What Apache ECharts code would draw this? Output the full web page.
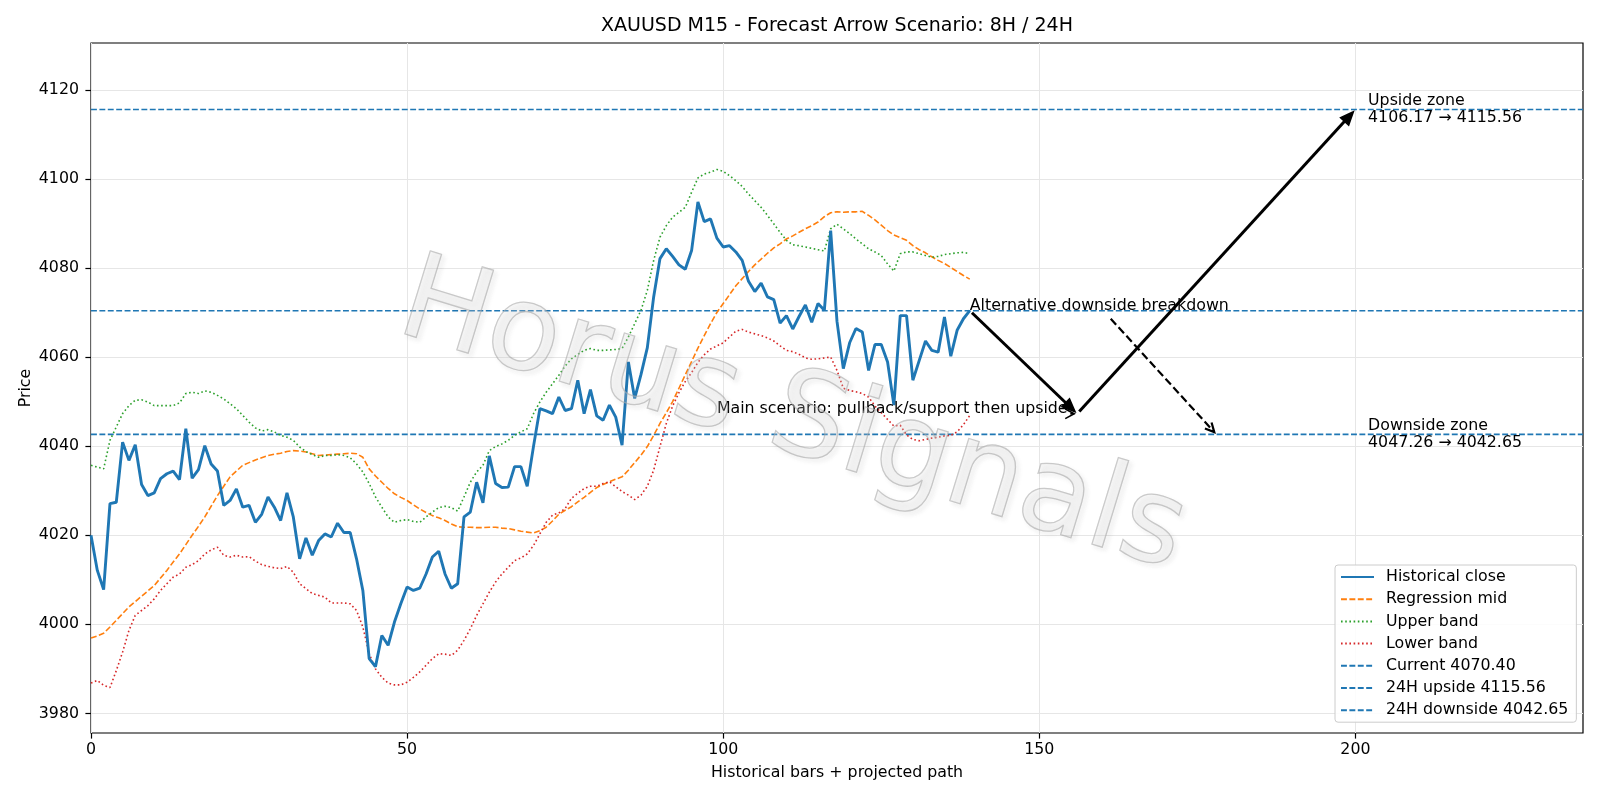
<!DOCTYPE html>
<html><head><meta charset="utf-8">
<script src="https://cdn.jsdelivr.net/npm/echarts@6/dist/echarts.min.js"></script>
<style>html,body{margin:0;padding:0;background:#fff}#c{width:1600px;height:800px}</style>
</head><body><div id="c"></div>
<script>
// ---------------- data ----------------
const closeVals = [4020.0,4012.1,4007.8,4027.1,4027.4,4040.9,4036.8,4040.3,4031.4,4028.9,
4029.5,4032.7,4033.8,4034.4,4032.5,4043.9,4032.8,4034.7,4040.1,4036.0,
4034.4,4026.7,4027.8,4030.4,4026.3,4026.7,4022.9,4024.7,4028.6,4026.3,
4023.3,4029.5,4024.1,4014.7,4019.4,4015.5,4018.8,4020.3,4019.6,4022.7,
4020.6,4020.6,4014.7,4007.6,3992.3,3990.5,3997.5,3995.3,4000.5,4004.6,
4008.4,4007.6,4008.1,4011.3,4015.1,4016.4,4011.3,4008.1,4009.1,4024.1,
4025.2,4031.9,4027.3,4037.8,4031.6,4030.7,4030.8,4035.4,4035.4,4031.0,
4040.0,4048.4,4047.9,4047.3,4051.0,4048.0,4048.4,4054.8,4047.3,4052.7,
4046.8,4045.8,4049.2,4046.5,4040.2,4058.9,4050.7,4056.1,4062.1,4073.5,
4082.1,4084.3,4082.6,4080.7,4079.7,4083.9,4094.8,4090.4,4091.0,4086.7,
4084.7,4085.0,4083.6,4081.7,4077.0,4074.7,4076.6,4073.5,4072.9,4067.6,
4069.3,4066.3,4069.1,4071.7,4067.8,4072.0,4070.5,4088.4,4068.0,4057.4,
4063.2,4066.4,4065.6,4057.0,4062.8,4062.8,4058.9,4049.2,4069.3,4069.3,
4054.8,4059.2,4063.6,4061.5,4061.1,4069.0,4060.2,4066.0,4068.6,4070.4];

const midVals = [3996.9,3997.4,3998.0,3999.4,4000.9,4002.4,4003.9,4005.1,4006.3,4007.5,
4008.7,4010.4,4012.1,4014.0,4015.8,4017.9,4020.0,4022.0,4024.1,4026.5,
4028.9,4031.0,4033.1,4034.4,4035.7,4036.3,4036.9,4037.4,4037.9,4038.2,
4038.4,4038.8,4039.0,4038.9,4038.7,4038.3,4037.9,4038.0,4038.1,4038.2,
4038.3,4038.4,4038.3,4037.5,4034.9,4033.3,4031.9,4030.5,4029.3,4028.5,
4027.8,4026.8,4025.9,4025.1,4024.4,4023.9,4023.3,4022.5,4021.9,4021.8,
4021.8,4021.7,4021.7,4021.8,4021.8,4021.6,4021.5,4021.2,4020.9,4020.7,
4020.5,4021.0,4021.8,4023.2,4024.7,4025.6,4026.4,4027.5,4028.5,4029.6,
4030.7,4031.4,4032.0,4032.6,4033.1,4034.6,4036.3,4038.0,4039.9,4042.4,
4045.1,4047.5,4050.0,4053.0,4056.0,4059.0,4062.0,4064.8,4067.5,4070.0,
4072.0,4074.0,4076.0,4077.6,4079.2,4080.7,4082.0,4083.3,4084.5,4085.4,
4086.5,4087.2,4088.0,4088.8,4089.5,4090.3,4091.5,4092.4,4092.6,4092.5,
4092.6,4092.6,4092.7,4091.8,4090.8,4089.6,4088.4,4087.4,4086.8,4086.2,
4085.0,4084.1,4083.4,4082.5,4081.7,4081.0,4080.1,4079.2,4078.3,4077.5];

const upperVals = [4035.7,4035.3,4034.9,4041.3,4044.3,4047.3,4049.1,4050.3,4050.4,4049.9,
4049.1,4049.1,4049.1,4049.1,4049.7,4051.8,4052.1,4051.8,4052.4,4052.1,
4051.4,4050.6,4049.5,4048.4,4046.9,4045.4,4044.1,4043.4,4043.7,4043.2,
4042.4,4042.0,4041.3,4039.8,4038.8,4038.1,4037.5,4037.9,4037.9,4038.1,
4037.9,4037.4,4036.0,4034.2,4031.6,4028.6,4026.3,4024.1,4022.9,4023.3,
4023.5,4023.1,4022.9,4024.1,4025.2,4026.2,4026.5,4026.2,4025.4,4028.6,
4031.9,4034.2,4035.7,4039.0,4039.9,4040.5,4041.3,4042.4,4043.2,4043.9,
4047.3,4049.9,4052.1,4054.0,4055.9,4058.0,4059.6,4060.6,4061.5,4061.9,
4061.5,4061.5,4061.6,4061.7,4061.9,4064.5,4067.5,4070.5,4075.0,4081.7,
4086.9,4089.5,4091.4,4092.5,4093.6,4097.0,4100.2,4101.1,4101.5,4102.1,
4101.7,4100.7,4099.6,4098.3,4096.6,4095.1,4093.6,4091.8,4089.9,4088.0,
4086.2,4085.2,4085.0,4084.7,4084.4,4084.1,4083.8,4088.8,4089.8,4088.8,
4087.7,4086.5,4085.4,4084.3,4083.6,4082.8,4080.9,4079.3,4083.2,4083.6,
4083.6,4083.2,4082.8,4082.4,4082.6,4083.0,4083.2,4083.4,4083.5,4083.2];

const lowerVals = [3986.8,3987.4,3986.3,3985.8,3989.6,3993.8,3998.6,4002.0,4003.1,4004.2,
4005.7,4007.6,4009.1,4010.6,4011.3,4012.8,4013.4,4014.3,4015.8,4016.7,
4017.3,4015.5,4015.1,4015.5,4015.1,4015.2,4014.2,4013.4,4013.0,4012.7,
4012.5,4013.0,4011.7,4009.1,4008.0,4006.9,4006.5,4006.1,4004.8,4004.8,
4004.8,4004.6,4003.1,3999.4,3993.4,3990.0,3988.1,3986.8,3986.4,3986.4,
3987.0,3988.1,3989.3,3990.8,3992.3,3993.4,3993.3,3993.0,3994.2,3996.4,
3999.0,4002.0,4004.6,4007.2,4009.5,4011.3,4012.8,4014.3,4014.9,4015.8,
4017.7,4020.3,4022.9,4024.5,4025.0,4026.0,4028.3,4029.4,4030.5,4031.0,
4031.0,4031.6,4032.0,4030.9,4029.8,4029.0,4028.0,4029.0,4031.0,4034.6,
4039.9,4045.1,4049.0,4052.0,4054.5,4056.5,4058.8,4060.5,4061.8,4062.5,
4063.2,4064.5,4065.8,4066.2,4065.6,4065.2,4064.8,4064.3,4063.6,4062.5,
4061.5,4061.2,4060.6,4059.8,4059.5,4059.6,4059.8,4060.0,4057.0,4053.0,
4052.5,4052.2,4051.8,4051.0,4049.0,4047.5,4046.0,4044.5,4044.7,4042.5,
4041.5,4041.2,4041.5,4041.8,4042.0,4042.3,4042.4,4043.2,4044.8,4046.9];

const currentLevel = 4070.40;
const upsideLevel = 4115.56;
const downsideLevel = 4042.65;

const xTicks = [0, 50, 100, 150, 200];
const yTicks = [3980, 4000, 4020, 4040, 4060, 4080, 4100, 4120];

const seriesNames = ['Historical close', 'Regression mid', 'Upper band', 'Lower band',
  'Current 4070.40', '24H upside 4115.56', '24H downside 4042.65'];

// projected path (data coords)
const mainPath = [[139, 4070.40], [156, 4047.26], [200, 4115.56]];
const altArrowPath = [[161.3, 4068.6], [178, 4042.65]];
const mainTextArrowPath = [[154.9, 4047.26], [156, 4047.26]];

const annotationTexts = ['Alternative downside breakdown',
  'Main scenario: pullback/support then upside',
  'Upside zone\n4106.17 \u2192 4115.56',
  'Downside zone\n4047.26 \u2192 4042.65'];
const annotationAnchors = [[139, 4070.40], [99, 4047.26], [202, 4115.56], [202, 4042.65]];

const titleText = 'XAUUSD M15 - Forecast Arrow Scenario: 8H / 24H';
const xName = 'Historical bars + projected path';
const yName = 'Price';
const watermarkText = 'Horus Signals';

// ---------------- chart ----------------
const X_MIN = 0, X_MAX = 236, Y_MIN = 3975.6, Y_MAX = 4130.5;
const FONT = 'DejaVu Sans';
const FS = 15.8;
const pairs = arr => arr.map((v, i) => [i, v]);
const hline = v => [[X_MIN, v], [X_MAX, v]];

const chart = echarts.init(document.getElementById('c'), null, {renderer: 'canvas'});

const arrowStyles = [
  {width: 3.0, dash: null, head: 'filled', headLen: 13, headW: 5.5, shrinkA: 3, shrinkB: 3},
  {width: 2.2, dash: [8, 3.6], head: 'open', headLen: 9, headW: 4.5, shrinkA: 0, shrinkB: 3},
  {width: 1.6, dash: null, head: 'open', headLen: 9, headW: 4.8, shrinkA: 0, shrinkB: 3}
];
const arrowData = [
  [mainPath[0][0], mainPath[0][1], mainPath[1][0], mainPath[1][1], 0],
  [mainPath[1][0], mainPath[1][1], mainPath[2][0], mainPath[2][1], 0],
  [altArrowPath[0][0], altArrowPath[0][1], altArrowPath[1][0], altArrowPath[1][1], 1],
  [mainTextArrowPath[0][0], mainTextArrowPath[0][1], mainTextArrowPath[1][0], mainTextArrowPath[1][1], 2]
];

function renderArrow(params, api) {
  const p1 = api.coord([api.value(0), api.value(1)]);
  const p2 = api.coord([api.value(2), api.value(3)]);
  const cfg = arrowStyles[api.value(4)];
  const dx = p2[0] - p1[0], dy = p2[1] - p1[1];
  const L = Math.hypot(dx, dy);
  const ux = dx / L, uy = dy / L, nx = -uy, ny = ux;
  const a = [p1[0] + ux * cfg.shrinkA, p1[1] + uy * cfg.shrinkA];
  const b = [p2[0] - ux * cfg.shrinkB, p2[1] - uy * cfg.shrinkB];
  const base = [b[0] - ux * cfg.headLen, b[1] - uy * cfg.headLen];
  const left = [base[0] + nx * cfg.headW, base[1] + ny * cfg.headW];
  const right = [base[0] - nx * cfg.headW, base[1] - ny * cfg.headW];
  const children = [];
  const lineEnd = cfg.head === 'filled' ? base : b;
  children.push({type: 'line', shape: {x1: a[0], y1: a[1], x2: lineEnd[0], y2: lineEnd[1]},
    style: {stroke: '#000', lineWidth: cfg.width, lineDash: cfg.dash || null, fill: null}});
  if (cfg.head === 'filled') {
    children.push({type: 'polygon', shape: {points: [b, left, right]},
      style: {fill: '#000', stroke: '#000', lineWidth: 1.5, lineJoin: 'miter'}});
  } else {
    children.push({type: 'polyline', shape: {points: [left, b, right]},
      style: {stroke: '#000', lineWidth: cfg.width, fill: null}});
  }
  return {type: 'group', children};
}

const textData = annotationAnchors.map((p, i) => [p[0], p[1], i]);
const textStyles = [
  {align: 'left', vAlign: 'middle', dy: -5.2},
  {align: 'left', vAlign: 'middle', dy: -5.2},
  {align: 'left', vAlign: 'middle', dy: 0},
  {align: 'left', vAlign: 'middle', dy: 0}
];
function renderText(params, api) {
  const p = api.coord([api.value(0), api.value(1)]);
  const idx = api.value(2);
  const st = textStyles[idx];
  return {type: 'text', x: p[0], y: p[1] + st.dy,
    style: {text: annotationTexts[idx], fill: '#000', font: FS + 'px "' + FONT + '"',
      textAlign: st.align, textVerticalAlign: st.vAlign, lineHeight: 17}};
}

const lineBase = {type: 'line', symbol: 'none', showSymbol: false, animation: false, silent: true};
const DASH = [5.9, 2.5], DOT = [1.6, 2.6];

const option = {
  animation: false,
  backgroundColor: '#fff',
  title: {text: titleText, left: 837, top: 17, textAlign: 'center', padding: 0,
    textStyle: {fontFamily: FONT, fontSize: 19, fontWeight: 'normal', color: '#000'}},
  grid: {left: 91, top: 43, right: 17, bottom: 67, show: true, borderColor: '#000', borderWidth: 1.2,
    backgroundColor: 'transparent', containLabel: false},
  legend: {
    data: seriesNames, orient: 'vertical', left: 1335, top: 565,
    itemWidth: 33, itemHeight: 16, itemGap: 6.2,
    padding: [4, 8, 4, 5],
    backgroundColor: 'rgba(255,255,255,0.85)', borderColor: '#cccccc', borderWidth: 1, borderRadius: 3,
    itemStyle: {opacity: 0},
    textStyle: {fontFamily: FONT, fontSize: FS, color: '#000', padding: [0, 0, 0, 7]},
    selectedMode: false, z: 20
  },
  xAxis: {
    type: 'value', min: X_MIN, max: X_MAX, interval: 50,
    name: xName, nameLocation: 'middle', nameGap: 32, nameMoveOverlap: false,
    nameTextStyle: {fontFamily: FONT, fontSize: FS, color: '#000'},
    axisLine: {show: false},
    axisTick: {show: true, length: 5.6, lineStyle: {color: '#000', width: 1.2}, customValues: xTicks},
    axisLabel: {fontFamily: FONT, fontSize: FS, color: '#000', margin: 9, customValues: xTicks,
      formatter: v => String(v)},
    splitLine: {show: true, lineStyle: {color: '#e6e6e6', width: 1}}
  },
  yAxis: {
    type: 'value', min: Y_MIN, max: Y_MAX, splitNumber: 8, minInterval: 20, maxInterval: 20,
    name: yName, nameLocation: 'middle', nameGap: 57, nameRotate: 90, nameMoveOverlap: false,
    nameTextStyle: {fontFamily: FONT, fontSize: FS, color: '#000'},
    axisLine: {show: false},
    axisTick: {show: true, length: 5.6, lineStyle: {color: '#000', width: 1.2}, customValues: yTicks},
    axisLabel: {fontFamily: FONT, fontSize: FS, color: '#000', margin: 12, customValues: yTicks,
      formatter: v => String(v)},
    splitLine: {show: true, lineStyle: {color: '#e6e6e6', width: 1}}
  },
  graphic: [{
    type: 'text', x: 792, y: 420, rotation: -17 * Math.PI / 180, z: 100, silent: true,
    style: {text: watermarkText, font: '119px "' + FONT + '"', fill: 'rgba(225,225,225,0.22)',
      stroke: 'rgba(165,165,165,0.6)', lineWidth: 1.3,
      textAlign: 'center', textVerticalAlign: 'middle',
      textShadowColor: 'rgba(90,90,90,0.22)', textShadowOffsetX: 3, textShadowOffsetY: 3, textShadowBlur: 4}
  }],
  series: [
    Object.assign({}, lineBase, {name: seriesNames[0], data: pairs(closeVals), z: 5,
      lineStyle: {color: '#1f77b4', width: 2.9}, itemStyle: {color: '#1f77b4'}}),
    Object.assign({}, lineBase, {name: seriesNames[1], data: pairs(midVals), z: 4,
      lineStyle: {color: '#ff7f0e', width: 1.6, type: DASH}, itemStyle: {color: '#ff7f0e'}}),
    Object.assign({}, lineBase, {name: seriesNames[2], data: pairs(upperVals), z: 4,
      lineStyle: {color: '#2ca02c', width: 1.6, type: DOT}, itemStyle: {color: '#2ca02c'}}),
    Object.assign({}, lineBase, {name: seriesNames[3], data: pairs(lowerVals), z: 4,
      lineStyle: {color: '#d62728', width: 1.6, type: DOT}, itemStyle: {color: '#d62728'}}),
    Object.assign({}, lineBase, {name: seriesNames[4], data: hline(currentLevel), z: 3,
      lineStyle: {color: '#1f77b4', width: 1.6, type: DASH}, itemStyle: {color: '#1f77b4'}}),
    Object.assign({}, lineBase, {name: seriesNames[5], data: hline(upsideLevel), z: 3,
      lineStyle: {color: '#1f77b4', width: 1.6, type: DASH}, itemStyle: {color: '#1f77b4'}}),
    Object.assign({}, lineBase, {name: seriesNames[6], data: hline(downsideLevel), z: 3,
      lineStyle: {color: '#1f77b4', width: 1.6, type: DASH}, itemStyle: {color: '#1f77b4'}}),
    {type: 'custom', name: 'arrows', data: arrowData, renderItem: renderArrow, clip: false, z: 10, silent: true,
      encode: {x: [0, 2], y: [1, 3]}},
    {type: 'custom', name: 'texts', data: textData, renderItem: renderText, clip: false, z: 11, silent: true,
      encode: {x: 0, y: 1}}
  ]
};
chart.setOption(option);
</script>
</body></html>
